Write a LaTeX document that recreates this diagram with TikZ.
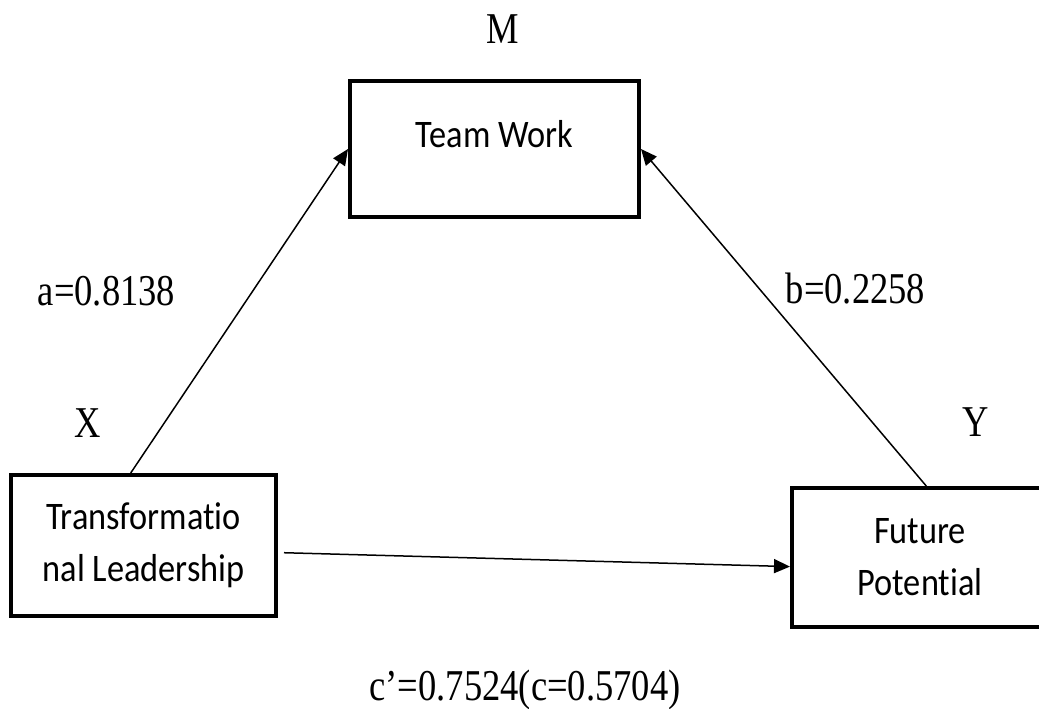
\documentclass[tikz,border=0pt]{standalone}
\usepackage{fontspec}
\setmainfont{Liberation Serif}[FakeStretch=0.83]
\newfontfamily\boxfont{Carlito}[FakeStretch=0.88, Ligatures=NoCommon]
\usetikzlibrary{arrows.meta, positioning}
\tikzset{->,
         >={Triangle[length=8pt, width=7pt]},
         every node/.style={inner sep=0pt},
         box/.style={draw, line width=2pt, align=center,
                     font=\boxfont\fontsize{19.5}{26}\selectfont},
         lbl/.style={anchor=base, font=\fontsize{22}{26}\selectfont},
         link/.style={line width=0.75pt},
         }

\begin{document}
\begin{tikzpicture}[x=0.5pt, y=-0.5pt]
    \useasboundingbox (0,0) rectangle (1039,708);

    \node[box, minimum width=144.5pt, minimum height=68pt,
          text height=12.5pt, text depth=14.5pt] (tw) at (494.5,149) {Team Work};
    \node[box, minimum width=132.5pt, minimum height=70.5pt] (tl) at (143.5,545.5) {Transformatio\\nal Leadership};
    \node[box, minimum width=128pt, minimum height=69.5pt] (fp) at (920,557.5) {Future\\Potential};

    \node[lbl] (m) at (503,43) {M};
    \node[lbl] (x) at (88,437) {X};
    \node[lbl] (y) at (976,436) {Y};
    \node[lbl] (a) at (106.5,305) {a=0.8138};
    \node[lbl] (b) at (855.5,303) {b=0.2258};
    \node[lbl] (c) at (525,700) {c’=0.7524(c=0.5704)};

    \draw[link] (tl.100) -- (tw.west);
    \draw[link] (fp.85) -- (tw.east);
    \draw[link, shorten <=3pt] (tl.-3) -- (fp.184);
\end{tikzpicture}
\end{document}
